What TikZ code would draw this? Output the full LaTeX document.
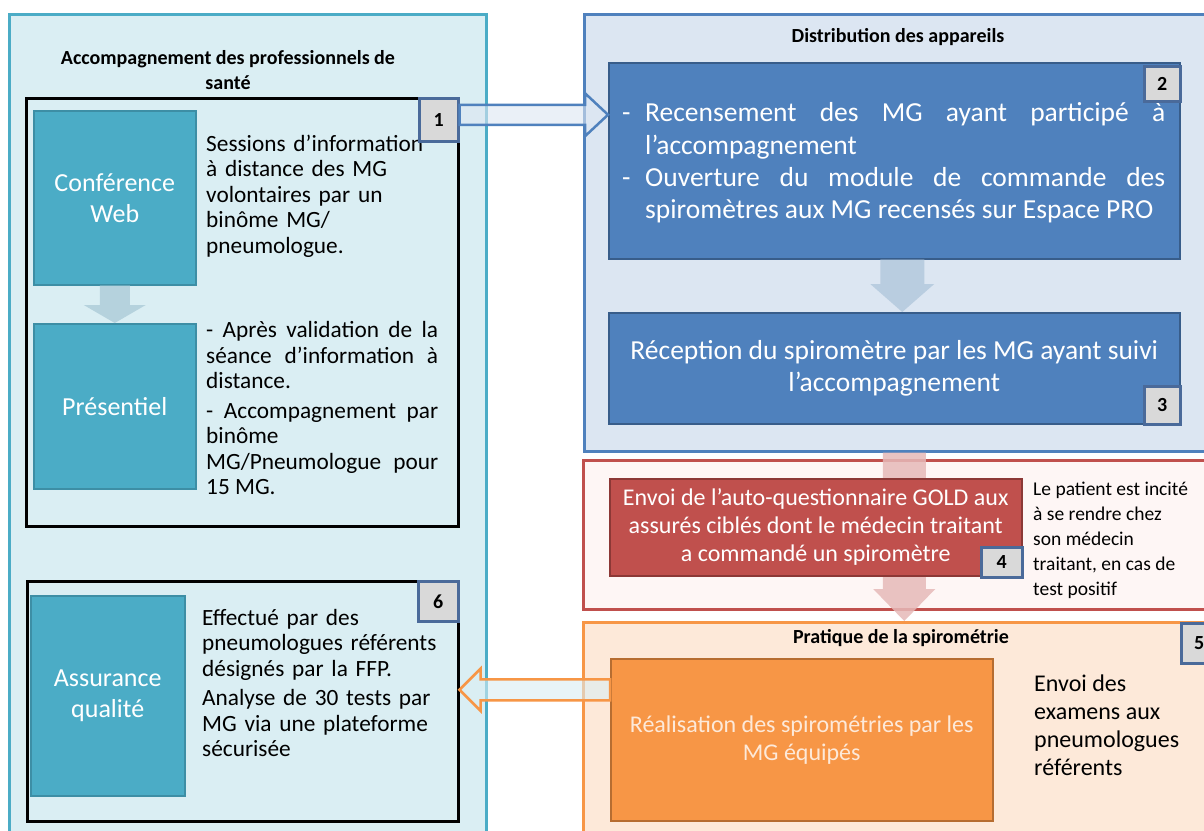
\documentclass[tikz,border=0pt]{standalone}
\usepackage{fontspec}
\setmainfont{Carlito}
\usetikzlibrary{calc}

\definecolor{accfill}{HTML}{DAEEF3}
\definecolor{accline}{HTML}{4BACC6}
\definecolor{tealfill}{HTML}{4BACC6}
\definecolor{tealline}{HTML}{3D8EA5}
\definecolor{distfill}{HTML}{DCE6F2}
\definecolor{distline}{HTML}{4F81BD}
\definecolor{bluefill}{HTML}{4F81BD}
\definecolor{blueline}{HTML}{385D8A}
\definecolor{redline}{HTML}{C0504D}
\definecolor{redfill}{HTML}{FEF6F5}
\definecolor{redboxline}{HTML}{8C3836}
\definecolor{orgline}{HTML}{F79646}
\definecolor{orgfill}{HTML}{FDE9D9}
\definecolor{orgboxline}{HTML}{B66D31}
\definecolor{numfill}{HTML}{D9D9D9}
\definecolor{numline}{HTML}{4A6A9A}
\definecolor{faintteal}{HTML}{B5D2DD}
\definecolor{faintblue}{HTML}{B9CDE0}
\definecolor{faintpink}{HTML}{E6B9B8}

\newcommand{\titlefont}{\fontsize{20}{25}\selectfont\bfseries}
\newcommand{\bodyfont}{\fontsize{23.3}{25.5}\selectfont}
\newcommand{\boxfont}{\fontsize{26}{31}\selectfont}
\newcommand{\bigfont}{\fontsize{27.5}{32.3}\selectfont}
\newcommand{\midfont}{\fontsize{24}{28}\selectfont}
\newcommand{\smallfont}{\fontsize{19.5}{25}\selectfont}
\newcommand{\numfont}{\fontsize{20}{22}\selectfont\bfseries}

% hollow block arrows: style, tail, tip, head length, shaft half, head half
\newcommand{\hblockarrow}[6]{%
  \path[#1] let \p1=(#2), \p2=(#3) in
    (\x1,{\y1+#5}) -- ({\x2-(#4)},{\y1+#5}) -- ({\x2-(#4)},{\y1+#6})
    -- (\x2,\y1) -- ({\x2-(#4)},{\y1-#6}) -- ({\x2-(#4)},{\y1-#5})
    -- (\x1,{\y1-#5}) -- cycle;}
\newcommand{\vblockarrow}[6]{%
  \path[#1] let \p1=(#2), \p2=(#3) in
    ({\x1-#5},\y1) -- ({\x1-#5},{\y2+#4}) -- ({\x1-#6},{\y2+#4})
    -- (\x1,\y2) -- ({\x1+#6},{\y2+#4}) -- ({\x1+#5},{\y2+#4})
    -- ({\x1+#5},\y1) -- cycle;}
\newcommand{\dashitem}{\makebox[23pt][l]{-}}
\newcommand{\hangline}{\linebreak\hspace*{23pt}}

\begin{document}
\begin{tikzpicture}[x=1pt, y=-1pt,
    cont/.style={draw, line width=2.5pt, anchor=north west, inner sep=0pt},
    grpbox/.style={draw=black, line width=2.5pt, anchor=north west, inner sep=0pt},
    stepnum/.style={draw=numline, fill=numfill, line width=2.5pt, anchor=north west,
        inner sep=0pt, font=\numfont},
    tealbx/.style={draw=tealline, fill=tealfill, line width=1.5pt, anchor=north west,
        inner sep=0pt, text=white, align=center, font=\boxfont},
    bluebx/.style={draw=blueline, fill=bluefill, line width=1.5pt, anchor=north west,
        inner sep=0pt, text=white, align=center, font=\bigfont},
    redbx/.style={draw=redboxline, fill=redline, line width=1.5pt, anchor=north west,
        inner sep=0pt, text=white, align=center, font=\midfont},
    orgbx/.style={draw=orgboxline, fill=orgline, line width=1.5pt, anchor=north west,
        inner sep=0pt, text=orgfill, align=center, font=\midfont},
    ttl/.style={font=\titlefont, align=center, inner sep=0pt},
    body/.style={font=\bodyfont, align=left, inner sep=0pt, anchor=west}]

    \fill[white] (0,0) rectangle (1204,830);
    \useasboundingbox (0,0) rectangle (1204,830);

    % the four coloured panels
    \node[cont, draw=accline, fill=accfill, minimum width=477, minimum height=840] (acccont) at (8,13) {};
    \node[cont, draw=distline, fill=distfill, minimum width=640, minimum height=437] (distcont) at (583,13) {};
    \node[cont, draw=redline, fill=redfill, minimum width=640, minimum height=149] (envcont) at (582,459) {};
    \node[cont, draw=orgline, fill=orgfill, minimum width=640, minimum height=230] (pratcont) at (582,621) {};

    \node[ttl] (accttl) at (228,70) {Accompagnement des professionnels de\\santé};
    \node[ttl] (distttl) at (898,37) {Distribution des appareils};
    \node[ttl] (pratttl) at (901,638) {Pratique de la spirométrie};

    % step 1
    \node[grpbox, minimum width=432, minimum height=428] (grp1) at (25,97) {};
    \node[tealbx, minimum width=162, minimum height=174] (conf) at (33,110) {Conférence\\Web};
    \node[tealbx, minimum width=162, minimum height=165] (pres) at (33,323) {Présentiel};
    \vblockarrow{fill=faintteal}{conf.south}{pres.north}{18pt}{15pt}{31pt};
    \node[body, text width=240] (conftxt) at (206,196)
        {Sessions d’information\\à distance des MG\\volontaires par un\\binôme MG/\\pneumologue.};
    \node[body, text width=232, align=justify] (prestxt) at (206,408)
        {\parindent=0pt - Après validation de la\linebreak séance d’information à\linebreak distance.\par
         \vspace{4pt}- Accompagnement par\linebreak binôme\newline MG/Pneumologue pour\linebreak 15 MG.};
    \node[stepnum, minimum width=39, minimum height=43] (num1) at (418,97) {1};

    % step 6
    \node[grpbox, minimum width=431, minimum height=240] (grp6) at (26,580) {};
    \node[tealbx, minimum width=154, minimum height=200] (assur) at (30,595) {Assurance\\qualité};
    \node[body, text width=250] (assurtxt) at (202,683)
        {Effectué par des\\pneumologues référents\\désignés par la FFP.\\[4pt]Analyse de 30 tests par\\MG via une plateforme\\sécurisée};
    \node[stepnum, minimum width=40, minimum height=40] (num6) at (417,580) {6};

    % steps 2 and 3
    \node[bluebx, minimum width=571, minimum height=196] (recens) at (608,62) {};
    \node[body, font=\bigfont, text=white, text width=543, align=justify] (recenstxt) at (622,163)
        {\parindent=0pt\dashitem Recensement des MG ayant participé à\hangline l’accompagnement\par
         \dashitem Ouverture du module de commande des\hangline spiromètres aux MG recensés sur Espace PRO};
    \node[stepnum, minimum width=36, minimum height=35] (num2) at (1143,65) {2};
    \node[bluebx, minimum width=571, minimum height=111] (recept) at (608,312)
        {Réception du spiromètre par les MG ayant suivi\\l’accompagnement};
    \node[stepnum, minimum width=36, minimum height=38] (num3) at (1143,385) {3};
    \vblockarrow{fill=faintblue}{[xshift=8pt]recens.south}{recept.north}{28pt}{22pt}{32pt};

    % step 4
    \vblockarrow{fill=faintpink, fill opacity=0.85}{distcont.south}{pratcont.north}{32pt}{21.5pt}{31pt};
    \node[redbx, minimum width=412, minimum height=97] (envoi) at (609,478)
        {Envoi de l’auto-questionnaire GOLD aux\\assurés ciblés dont le médecin traitant\\a commandé un spiromètre};
    \node[stepnum, minimum width=41, minimum height=30] (num4) at (980,546) {4};
    \node[body, font=\smallfont] (envoitxt) at (1033,540)
        {Le patient est incité\\à se rendre chez\\son médecin\\traitant, en cas de\\test positif};

    % step 5
    \node[orgbx, minimum width=382, minimum height=162] (realis) at (610,658)
        {Réalisation des spirométries par les\\MG équipés};
    \node[stepnum, minimum width=36, minimum height=40] (num5) at (1180,622) {5};
    \node[body, font=\midfont] (realistxt) at (1034,725) {Envoi des\\examens aux\\pneumologues\\référents};

    % hollow arrows between the panels
    \hblockarrow{draw=distline, fill=distfill, fill opacity=0.6, line width=2.5pt}{[yshift=5pt]num1.east}{recens.west}{23pt}{10pt}{21.5pt};
    \hblockarrow{draw=orgline, fill=accfill, fill opacity=0.6, line width=2.5pt}{[yshift=50pt]realis.west}{grp6.east}{-21pt}{10.5pt}{21pt};
\end{tikzpicture}
\end{document}
